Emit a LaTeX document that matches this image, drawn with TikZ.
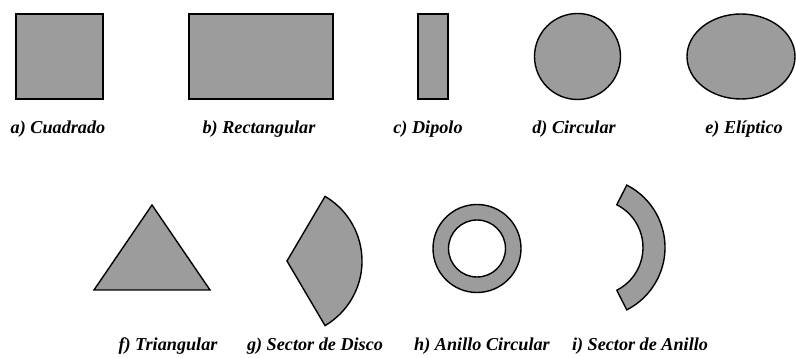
\documentclass[tikz,border=0pt]{standalone}
\usepackage{fontspec}
\setmainfont{Liberation Serif}
\definecolor{patchgray}{RGB}{156,156,156}

\begin{document}
\begin{tikzpicture}[x=1pt,y=-1pt,
    patch/.style={draw=black, fill=patchgray, line width=1.4pt},
    caption/.style={font=\fontsize{18.2}{21}\selectfont\bfseries\itshape, inner sep=0pt, anchor=base}]
    \useasboundingbox (0,0) rectangle (796,358);
    % top row
    \draw[patch] (16,14) rectangle (103,99);
    \draw[patch] (189,14) rectangle (333,99);
    \draw[patch] (418,14) rectangle (448,99);
    \draw[patch] (577.5,56.5) circle (43);
    \draw[patch] (741,56.5) ellipse (54 and 42.5);
    \node[caption] (lbl_a) at (58,134) {a) Cuadrado};
    \node[caption] (lbl_b) at (259,134) {b) Rectangular};
    \node[caption] (lbl_c) at (428,134) {c) Dipolo};
    \node[caption] (lbl_d) at (574,134) {d) Circular};
    \node[caption] (lbl_e) at (744,134) {e) Elíptico};
    % bottom row
    \draw[patch] (94,290) -- (152,205) -- (210,290) -- cycle;
    \begin{scope}[shift={(287,261)}]
      \draw[patch] (0,0) -- (-59.5:75) arc (-59.5:59.5:75) -- cycle;
    \end{scope}
    \draw[patch, even odd rule] (477,248.5) circle (44) (477,248.5) circle (28.5);
    \begin{scope}[shift={(595,247.5)}]
      \draw[patch] (-63:70) arc (-63:63:70) -- (63:48) arc (63:-63:48) -- cycle;
    \end{scope}
    \node[caption] (lbl_f) at (168,351) {f) Triangular};
    \node[caption] (lbl_g) at (315,351) {g) Sector de Disco};
    \node[caption] (lbl_h) at (482,351) {h) Anillo Circular};
    \node[caption] (lbl_i) at (640,351) {i) Sector de Anillo};
\end{tikzpicture}
\end{document}
